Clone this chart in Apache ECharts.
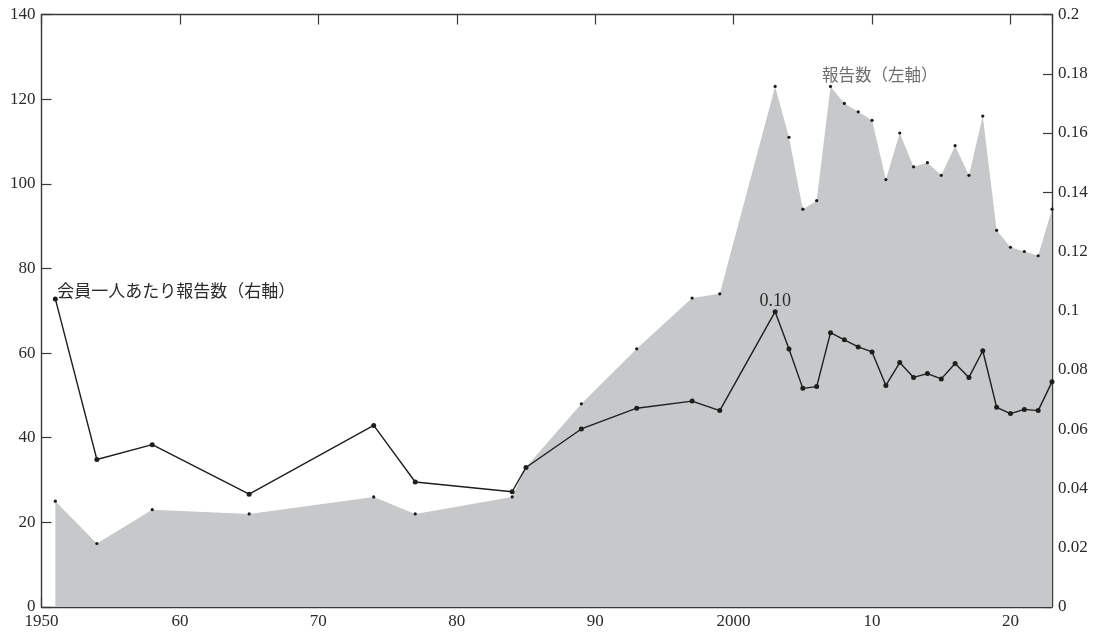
<!DOCTYPE html>
<html>
<head>
<meta charset="utf-8">
<script src="https://cdn.jsdelivr.net/npm/echarts@6/dist/echarts.min.js"></script>
<style>
html,body{margin:0;padding:0;background:#fff;}
#c{width:1101px;height:635px;}
</style>
</head>
<body>
<div id="c"></div>
<script>
// Years of observations
var years = [1951, 1954, 1958, 1965, 1974, 1977, 1984, 1985, 1989, 1993, 1997, 1999,
  2003, 2004, 2005, 2006, 2007, 2008, 2009, 2010, 2011, 2012, 2013, 2014, 2015, 2016,
  2017, 2018, 2019, 2020, 2021, 2022, 2023];
// 報告数（左軸）
var reports = [25, 15, 23, 22, 26, 22, 26, 33, 48, 61, 73, 74,
  123, 111, 94, 96, 123, 119, 117, 115, 101, 112, 104, 105, 102, 109,
  102, 116, 89, 85, 84, 83, 94];
// 会員一人あたり報告数（右軸）
var perMember = [0.104, 0.0498, 0.0548, 0.0381, 0.0613, 0.0422, 0.0389, 0.0471, 0.0601, 0.0671, 0.0695, 0.0663,
  0.0997, 0.0871, 0.0738, 0.0744, 0.0926, 0.0902, 0.0878, 0.0861, 0.0748, 0.0825, 0.0775, 0.0788, 0.0770, 0.0822,
  0.0775, 0.0865, 0.0674, 0.0653, 0.0667, 0.0663, 0.0760];

var xTickLabels = {1950: '1950', 1960: '60', 1970: '70', 1980: '80', 1990: '90', 2000: '2000', 2010: '10', 2020: '20'};
var leftSeriesName = '報告数（左軸）';
var rightSeriesName = '会員一人あたり報告数（右軸）';
var peakLabelText = '0.10';

var numFont = '"Liberation Serif", "DejaVu Serif", serif';
var jpFont = '"Noto Sans CJK JP", sans-serif';
var axisColor = '#3a3a3a';
var textColor = '#2a2a2a';

var areaData = years.map(function (y, i) {
  var d = {value: [y, reports[i]]};
  if (y === 2007) {
    d.label = {
      show: true, formatter: leftSeriesName, position: [-7, -10],
      align: 'left', verticalAlign: 'middle',
      fontFamily: jpFont, fontSize: 16.5, color: '#6e6e6e'
    };
  }
  return d;
});
var lineData = years.map(function (y, i) {
  var d = {value: [y, perMember[i]]};
  if (y === 1951) {
    d.label = {
      show: true, formatter: rightSeriesName, position: [4.5, -6],
      align: 'left', verticalAlign: 'middle',
      fontFamily: jpFont, fontSize: 17, color: textColor
    };
  }
  if (y === 2003) {
    d.label = {
      show: true, formatter: peakLabelText, position: [2.5, -8],
      align: 'center', verticalAlign: 'middle',
      fontFamily: numFont, fontSize: 18, color: textColor
    };
  }
  return d;
});

var chart = echarts.init(document.getElementById('c'), null, {renderer: 'canvas'});
chart.setOption({
  animation: false,
  backgroundColor: '#ffffff',
  grid: {left: 41.5, right: 49, top: 14.5, bottom: 28, containLabel: false},
  xAxis: [{
    type: 'value', min: 1950, max: 2023, interval: 10, position: 'bottom',
    axisLine: {show: true, onZero: false, lineStyle: {color: axisColor, width: 1.4}},
    axisTick: {show: true, inside: true, length: 10, lineStyle: {color: axisColor, width: 1.2}},
    axisLabel: {
      show: true, margin: 6, fontFamily: numFont, fontSize: 17, color: textColor,
      showMaxLabel: false,
      formatter: function (v) { return xTickLabels[v] || ''; }
    },
    splitLine: {show: false}
  }, {
    type: 'value', min: 1950, max: 2023, interval: 10, position: 'top',
    axisLine: {show: true, onZero: false, lineStyle: {color: axisColor, width: 1.4}},
    axisTick: {show: true, inside: true, length: 10, lineStyle: {color: axisColor, width: 1.2}},
    axisLabel: {show: false},
    splitLine: {show: false}
  }],
  yAxis: [{
    type: 'value', min: 0, max: 140, interval: 20, position: 'left',
    axisLine: {show: true, onZero: false, lineStyle: {color: axisColor, width: 1.4}},
    axisTick: {show: true, inside: true, length: 10, lineStyle: {color: axisColor, width: 1.2}},
    axisLabel: {margin: 6, fontFamily: numFont, fontSize: 17, color: textColor},
    splitLine: {show: false}
  }, {
    type: 'value', min: 0, max: 0.2, interval: 0.02, position: 'right',
    axisLine: {show: true, onZero: false, lineStyle: {color: axisColor, width: 1.4}},
    axisTick: {show: true, inside: true, length: 9, lineStyle: {color: axisColor, width: 1.2}},
    axisLabel: {
      margin: 6, fontFamily: numFont, fontSize: 17, color: textColor,
      formatter: function (v) { return String(Math.round(v * 100) / 100); }
    },
    splitLine: {show: false}
  }],
  series: [{
    name: leftSeriesName,
    type: 'line', xAxisIndex: 0, yAxisIndex: 0,
    data: areaData,
    symbol: 'circle', symbolSize: 3.2, showSymbol: true,
    itemStyle: {color: '#1a1a1a'},
    lineStyle: {width: 0, color: '#c7c8ca'},
    areaStyle: {color: '#c7c8ca', opacity: 1},
    z: 1
  }, {
    name: rightSeriesName,
    type: 'line', xAxisIndex: 0, yAxisIndex: 1,
    data: lineData,
    symbol: 'circle', symbolSize: 5, showSymbol: true,
    itemStyle: {color: '#1e1e1e'},
    lineStyle: {width: 1.4, color: '#1e1e1e'},
    z: 3
  }]
});
</script>
</body>
</html>
